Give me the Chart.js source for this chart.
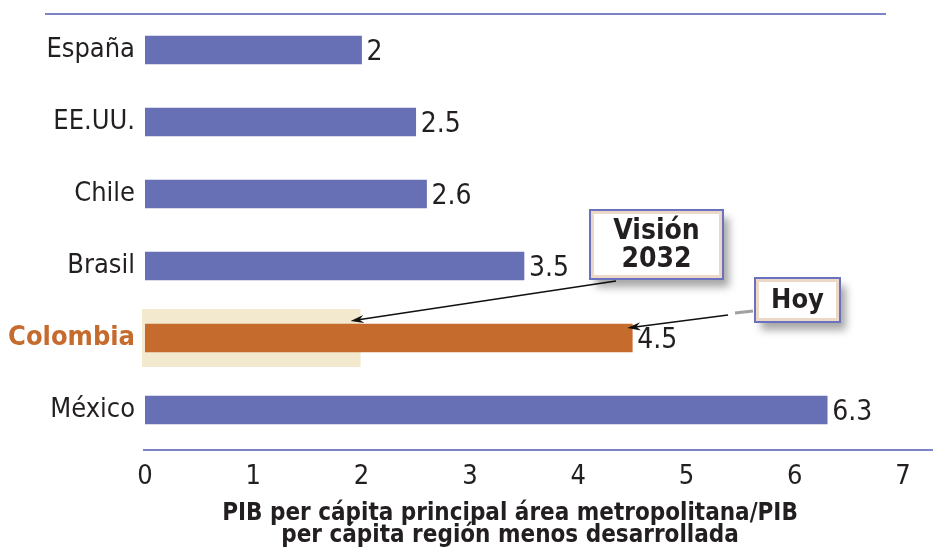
<!DOCTYPE html>
<html>
<head>
<meta charset="utf-8">
<script src="https://cdn.jsdelivr.net/npm/chart.js@4/dist/chart.umd.min.js"></script>
<style>
  html, body { margin: 0; padding: 0; background: #fff; }
  #wrap { width: 933px; height: 550px; position: relative; }
</style>
</head>
<body>
<div id="wrap"><canvas id="chart"></canvas></div>
<script>
const categories = ["España", "EE.UU.", "Chile", "Brasil", "Colombia", "México"];
const ratioValues = [2, 2.5, 2.6, 3.5, 4.5, 6.3];
const xTicks = [0, 1, 2, 3, 4, 5, 6, 7];
const highlightCategory = "Colombia";
const visionTarget = 2;
const axisTitle = ["PIB per cápita principal área metropolitana/PIB", "per cápita región menos desarrollada"];

const FONT = "'DejaVu Sans Condensed', 'Liberation Sans Narrow', 'DejaVu Sans', sans-serif";
const BLUE = "#6770b5";
const ORANGE = "#c66b2e";
const LINE = "#7c84c6";
const TEXT = "#231f20";
const highlightIndex = categories.indexOf(highlightCategory);

function drawBox(ctx, x, y, w, h, lines, fontSize) {
  ctx.save();
  ctx.shadowColor = "rgba(0,0,0,0.35)";
  ctx.shadowBlur = 8;
  ctx.shadowOffsetX = 6;
  ctx.shadowOffsetY = 8;
  ctx.fillStyle = "#fff";
  ctx.fillRect(x, y, w, h);
  ctx.restore();
  ctx.save();
  ctx.strokeStyle = "#ecd8c6";
  ctx.lineWidth = 4;
  ctx.strokeRect(x + 2, y + 2, w - 4, h - 4);
  ctx.strokeStyle = "#6a72c0";
  ctx.lineWidth = 2;
  ctx.strokeRect(x, y, w, h);
  ctx.fillStyle = TEXT;
  ctx.font = `bold ${fontSize}px ${FONT}`;
  ctx.textAlign = "center";
  ctx.textBaseline = "middle";
  const lh = fontSize;
  const startY = y + h / 2 - ((lines.length - 1) * lh) / 2 + 1;
  lines.forEach((line, i) => ctx.fillText(line, x + w / 2, startY + i * lh));
  ctx.restore();
}

function drawArrow(ctx, x1, y1, x2, y2) {
  const angle = Math.atan2(y2 - y1, x2 - x1);
  ctx.save();
  ctx.strokeStyle = "#111";
  ctx.fillStyle = "#111";
  ctx.lineWidth = 1.6;
  ctx.beginPath();
  ctx.moveTo(x1, y1);
  ctx.lineTo(x2 - 8 * Math.cos(angle), y2 - 8 * Math.sin(angle));
  ctx.stroke();
  ctx.beginPath();
  ctx.moveTo(x2, y2);
  ctx.lineTo(x2 - 14 * Math.cos(angle - 0.3), y2 - 14 * Math.sin(angle - 0.3));
  ctx.lineTo(x2 - 9 * Math.cos(angle), y2 - 9 * Math.sin(angle));
  ctx.lineTo(x2 - 14 * Math.cos(angle + 0.3), y2 - 14 * Math.sin(angle + 0.3));
  ctx.closePath();
  ctx.fill();
  ctx.restore();
}

const decorPlugin = {
  id: "decor",
  beforeDraw(chart) {
    const { ctx, width, height } = chart;
    ctx.save();
    ctx.fillStyle = "#fff";
    ctx.fillRect(0, 0, width, height);
    ctx.restore();
  },
  beforeDatasetsDraw(chart) {
    const { ctx, scales: { x, y }, chartArea } = chart;
    const cy = y.getPixelForValue(highlightIndex);
    ctx.save();
    ctx.fillStyle = "#f3e9cf";
    ctx.fillRect(chartArea.left - 3, cy - 29, x.getPixelForValue(visionTarget) - chartArea.left + 2, 58);
    ctx.restore();
  },
  afterDatasetsDraw(chart) {
    const { ctx, scales: { x, y }, chartArea, width } = chart;
    ctx.save();
    // frame lines
    ctx.strokeStyle = LINE;
    ctx.lineWidth = 2;
    ctx.beginPath();
    ctx.moveTo(45, 14);
    ctx.lineTo(886, 14);
    ctx.moveTo(chartArea.left - 2, 450);
    ctx.lineTo(width, 450);
    ctx.stroke();

    // value labels
    ctx.fillStyle = TEXT;
    ctx.font = `28px ${FONT}`;
    ctx.textAlign = "left";
    ctx.textBaseline = "middle";
    chart.getDatasetMeta(0).data.forEach((bar, i) => {
      ctx.fillText(String(ratioValues[i]), bar.x + 5, bar.y + 3);
    });

    // axis title
    ctx.font = `bold 24px ${FONT}`;
    ctx.textAlign = "center";
    axisTitle.forEach((line, i) => ctx.fillText(line, 510, 514 + i * 22));
    ctx.restore();

    const cy = y.getPixelForValue(highlightIndex);
    const tipVision = { x: x.getPixelForValue(visionTarget) - 11, y: cy - 17 };
    const tipHoy = { x: x.getPixelForValue(ratioValues[highlightIndex]) - 5, y: cy - 10 };

    drawArrow(ctx, 616, 281, tipVision.x, tipVision.y);
    drawArrow(ctx, 728, 315, tipHoy.x, tipHoy.y);
    ctx.save();
    ctx.strokeStyle = "#a0a0a0";
    ctx.lineWidth = 3;
    ctx.beginPath();
    ctx.moveTo(735, 313);
    ctx.lineTo(753, 311);
    ctx.stroke();
    ctx.restore();

    drawBox(ctx, 590, 210, 133, 69, ["Visión", "2032"], 28);
    drawBox(ctx, 755, 278, 85, 44, ["Hoy"], 27);
  },
};

new Chart(document.getElementById("chart"), {
  type: "bar",
  data: {
    labels: categories,
    datasets: [
      {
        data: ratioValues,
        backgroundColor: categories.map((c) => (c === highlightCategory ? ORANGE : BLUE)),
        barThickness: 28,
      },
    ],
  },
  options: {
    indexAxis: "y",
    responsive: true,
    maintainAspectRatio: false,
    animation: false,
    layout: { padding: { top: 14, right: 30, left: 0, bottom: 0 } },
    plugins: { legend: { display: false }, tooltip: { enabled: false } },
    scales: {
      x: {
        min: 0,
        max: 7,
        afterBuildTicks: (scale) => {
          scale.ticks = xTicks.map((v) => ({ value: v }));
        },
        afterFit: (scale) => {
          scale.height = 104;
          scale.paddingLeft = 0;
          scale.paddingRight = 0;
        },
        grid: { display: false, drawTicks: false },
        border: { display: false },
        ticks: { color: TEXT, font: { family: FONT, size: 27 }, padding: 15 },
      },
      y: {
        afterFit: (scale) => {
          scale.width = 145;
          scale.paddingTop = 0;
          scale.paddingBottom = 0;
        },
        grid: { display: false, drawTicks: false },
        border: { display: false },
        ticks: {
          padding: 10,
          color: (ctx) => (ctx.index === highlightIndex ? ORANGE : TEXT),
          font: (ctx) =>
            ctx.index === highlightIndex
              ? { family: FONT, size: 27, weight: "bold" }
              : { family: FONT, size: 27 },
        },
      },
    },
  },
  plugins: [decorPlugin],
});
</script>
</body>
</html>
